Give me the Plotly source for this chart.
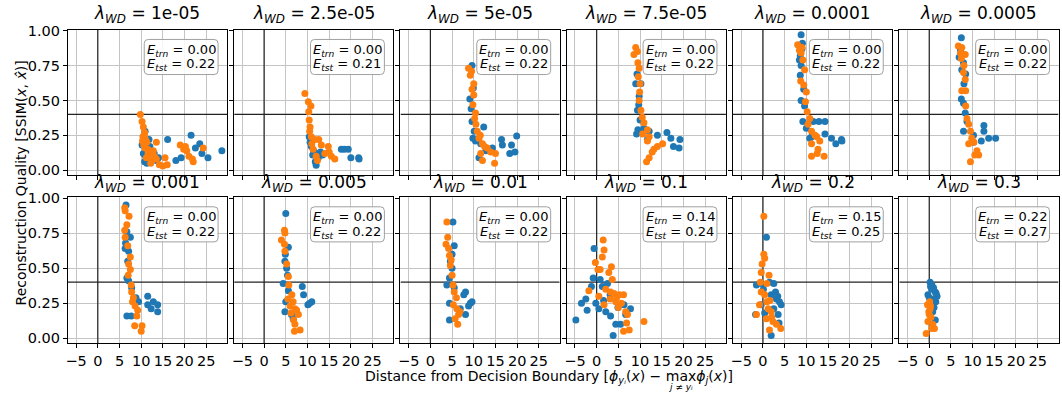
import plotly.graph_objects as go

W, H = 1062, 394

lambdas = ["1e-05", "2.5e-05", "5e-05", "7.5e-05", "0.0001", "0.0005",
           "0.001", "0.005", "0.01", "0.1", "0.2", "0.3"]
e_trn = ["0.00", "0.00", "0.00", "0.00", "0.00", "0.00",
         "0.00", "0.00", "0.00", "0.14", "0.15", "0.22"]
e_tst = ["0.22", "0.21", "0.22", "0.22", "0.22", "0.22",
         "0.22", "0.22", "0.22", "0.24", "0.25", "0.27"]

# blue (train) series per panel
blue_x = [
    [10.2, 10.5, 11.0, 11.5, 12.0, 12.5, 10.8, 11.3, 13.0, 12.2, 11.8, 14.0, 16.1, 18.0, 19.2, 21.5, 22.5, 23.5, 24.0, 25.4, 28.6, 10.6, 11.1, 12.8, 13.5, 10.9, 11.6],
    [10.9, 12.0, 11.4, 17.8, 19.4, 20.0, 21.8, 21.9, 12.0, 10.6, 11.2, 12.5, 13.0, 11.8, 10.4, 13.5, 18.5],
    [9.6, 9.1, 9.4, 9.6, 9.8, 12.3, 16.4, 16.6, 18.7, 19.9, 18.3, 19.5, 14.3, 11.2, 11.6, 10.1, 9.9, 10.4, 12.8],
    [9.0, 10.2, 9.8, 9.4, 9.5, 9.2, 10.9, 12.1, 14.0, 16.2, 17.1, 17.7, 19.2, 19.0, 11.7, 9.7, 10.0, 9.3],
    [8.8, 9.1, 8.6, 8.8, 8.6, 9.4, 8.8, 9.6, 9.2, 10.0, 11.6, 12.9, 14.3, 10.8, 14.3, 15.8, 16.8, 18.1, 18.2, 11.2, 9.0, 8.4],
    [7.4, 6.9, 7.9, 7.5, 8.4, 7.4, 7.9, 8.3, 8.7, 7.9, 10.2, 12.6, 12.6, 12.0, 13.7, 15.3, 10.2, 7.2, 8.0],
    [6.5, 6.7, 7.5, 6.3, 7.1, 6.7, 7.1, 7.8, 8.8, 11.5, 11.5, 12.8, 13.8, 13.8, 12.3, 6.7, 7.7, 9.4, 6.4, 6.9],
    [5.0, 5.6, 4.8, 5.2, 4.4, 5.6, 8.8, 9.1, 11.0, 10.1, 5.0, 4.8, 6.7, 6.3, 5.4, 4.9, 10.5],
    [5.2, 5.5, 4.6, 5.0, 4.4, 3.8, 5.5, 8.1, 7.7, 9.6, 8.8, 8.1, 4.4, 4.4, 6.9, 5.0, 9.2],
    [-0.6, -0.8, 0.8, -1.2, -2.5, -3.5, -2.2, -0.2, -4.8, 1.3, 2.5, 3.1, 0.5, 2.1, 3.2, 4.4, 5.5, 3.8, 6.7, 7.8, 6.3, 1.6, 4.9],
    [0.8, -1.5, -0.4, 1.5, 2.5, 1.9, 3.1, 3.8, 4.2, -0.4, -1.7, 0.4, 3.5, 3.7, 1.9, 2.5, 0.1, 2.9, 3.4],
    [0.2, 0.6, 1.0, 1.4, 1.8, 1.5, -0.3, -0.2, 0.5, 1.4, 0.6, 1.1, 0.8, 0.3, 1.6, 0.0],
]
blue_y = [
    [0.18, 0.12, 0.10, 0.15, 0.17, 0.08, 0.06, 0.05, 0.12, 0.13, 0.22, 0.09, 0.22, 0.07, 0.09, 0.25, 0.16, 0.19, 0.12, 0.09, 0.14, 0.24, 0.20, 0.10, 0.07, 0.28, 0.16],
    [0.17, 0.12, 0.14, 0.15, 0.15, 0.09, 0.09, 0.08, 0.035, 0.20, 0.11, 0.09, 0.13, 0.06, 0.24, 0.11, 0.15],
    [0.75, 0.51, 0.44, 0.35, 0.23, 0.31, 0.22, 0.18, 0.18, 0.245, 0.12, 0.13, 0.16, 0.09, 0.19, 0.28, 0.59, 0.21, 0.14],
    [0.62, 0.62, 0.53, 0.43, 0.29, 0.26, 0.30, 0.28, 0.25, 0.27, 0.23, 0.17, 0.22, 0.16, 0.22, 0.47, 0.36, 0.69],
    [0.97, 0.91, 0.82, 0.75, 0.68, 0.58, 0.50, 0.46, 0.35, 0.30, 0.35, 0.35, 0.35, 0.23, 0.26, 0.23, 0.19, 0.22, 0.21, 0.24, 0.87, 0.79],
    [0.95, 0.81, 0.77, 0.72, 0.69, 0.51, 0.48, 0.41, 0.35, 0.28, 0.25, 0.32, 0.28, 0.21, 0.23, 0.23, 0.20, 0.86, 0.62],
    [0.95, 0.76, 0.72, 0.64, 0.62, 0.43, 0.41, 0.36, 0.29, 0.30, 0.24, 0.26, 0.24, 0.19, 0.21, 0.16, 0.16, 0.26, 0.68, 0.55],
    [0.89, 0.65, 0.55, 0.50, 0.39, 0.34, 0.37, 0.31, 0.26, 0.24, 0.26, 0.19, 0.14, 0.17, 0.45, 0.60, 0.25],
    [0.83, 0.66, 0.55, 0.50, 0.43, 0.38, 0.36, 0.33, 0.31, 0.26, 0.23, 0.17, 0.13, 0.25, 0.21, 0.60, 0.25],
    [0.64, 0.43, 0.42, 0.37, 0.28, 0.25, 0.20, 0.25, 0.13, 0.37, 0.39, 0.31, 0.21, 0.19, 0.16, 0.10, 0.10, 0.02, 0.17, 0.21, 0.24, 0.27, 0.22],
    [0.72, 0.38, 0.39, 0.40, 0.39, 0.31, 0.28, 0.26, 0.24, 0.24, 0.17, 0.18, 0.17, 0.11, 0.02, 0.21, 0.35, 0.33, 0.30],
    [0.40, 0.38, 0.36, 0.33, 0.30, 0.26, 0.31, 0.24, 0.28, 0.13, 0.35, 0.22, 0.19, 0.37, 0.32, 0.29],
]
# orange (test) series per panel
orange_x = [
    [9.8, 10.2, 10.5, 10.8, 10.4, 11.0, 11.3, 10.6, 10.9, 11.5, 12.0, 11.8, 10.3, 10.7, 11.2, 12.5, 13.0, 12.2, 11.6, 13.5, 14.2, 15.0, 15.5, 19.0, 19.8, 20.5, 21.0, 21.8, 20.2, 22.0, 24.3, 12.8, 13.5, 16.0],
    [9.4, 10.2, 10.3, 10.4, 10.5, 10.9, 11.7, 12.6, 14.8, 15.5, 16.3, 12.0, 11.3, 12.3, 10.6, 11.0, 13.2, 14.0, 15.0, 10.8],
    [8.8, 9.2, 9.6, 10.0, 9.8, 10.2, 10.5, 10.8, 11.2, 12.0, 13.1, 13.9, 15.0, 11.6, 12.0, 14.8, 9.5, 10.0, 11.5, 12.5, 10.4],
    [9.0, 9.4, 8.6, 9.5, 9.8, 9.6, 10.0, 9.8, 10.2, 10.5, 10.9, 11.7, 12.1, 11.7, 14.0, 12.8, 12.1, 11.5, 15.2, 13.2, 10.6, 9.9],
    [8.0, 8.4, 8.8, 9.2, 8.7, 9.4, 10.0, 9.8, 10.2, 10.8, 10.4, 11.2, 12.0, 12.4, 11.2, 12.7, 11.2, 12.5, 14.1, 13.1, 9.0, 9.6],
    [6.7, 7.5, 8.3, 7.4, 7.9, 8.3, 7.5, 8.4, 8.4, 8.7, 9.1, 9.5, 9.8, 9.1, 11.0, 11.4, 10.5, 9.5, 7.2, 8.0, 10.3],
    [6.2, 6.3, 7.2, 6.7, 6.2, 6.3, 6.9, 7.5, 7.1, 7.5, 7.7, 7.8, 8.2, 8.6, 9.0, 8.5, 10.2, 10.0, 9.2, 7.0, 8.0],
    [4.7, 4.8, 4.0, 4.7, 4.8, 5.2, 5.6, 5.7, 6.4, 6.7, 7.1, 6.2, 7.9, 7.1, 7.0, 8.3, 6.0, 5.5, 6.8, 7.5],
    [3.8, 4.0, 3.6, 4.2, 4.4, 4.6, 5.0, 5.2, 5.5, 6.0, 6.1, 6.5, 6.3, 5.7, 5.3, 4.8, 6.8],
    [1.5, 1.7, 1.3, -0.3, 0.3, 0.8, 3.4, 2.8, 3.6, -1.8, 0.5, 2.1, 3.2, 4.0, 5.2, 6.2, 5.7, 4.4, 6.7, 7.1, 6.9, 6.2, 7.5, 10.9, 1.7, 3.1, 5.0, 4.6],
    [0.2, 0.2, 0.4, -0.2, -0.4, 1.4, -0.6, -0.4, 0.9, -0.8, -1.5, 1.2, 1.9, 0.8, 2.3, 1.5, 4.1, 3.1, 0.4, 1.6, 2.0, 0.9],
    [-0.7, 1.2, 0.0, 0.2, -0.3, 0.6, 0.1, 0.4, -0.1, 0.8, 0.3, -0.4],
]
orange_y = [
    [0.40, 0.35, 0.31, 0.27, 0.24, 0.22, 0.20, 0.18, 0.16, 0.15, 0.13, 0.11, 0.21, 0.25, 0.09, 0.07, 0.10, 0.05, 0.12, 0.08, 0.04, 0.03, 0.09, 0.18, 0.15, 0.14, 0.10, 0.08, 0.17, 0.06, 0.16, 0.14, 0.20, 0.04],
    [0.55, 0.49, 0.42, 0.36, 0.28, 0.24, 0.22, 0.22, 0.17, 0.10, 0.08, 0.10, 0.15, 0.07, 0.31, 0.19, 0.18, 0.12, 0.13, 0.46],
    [0.73, 0.68, 0.58, 0.54, 0.47, 0.37, 0.33, 0.28, 0.23, 0.19, 0.16, 0.13, 0.12, 0.12, 0.07, 0.05, 0.71, 0.62, 0.25, 0.17, 0.41],
    [0.88, 0.85, 0.83, 0.77, 0.73, 0.67, 0.62, 0.50, 0.43, 0.38, 0.34, 0.29, 0.24, 0.21, 0.17, 0.13, 0.09, 0.06, 0.19, 0.15, 0.26, 0.56],
    [0.90, 0.86, 0.84, 0.79, 0.64, 0.61, 0.56, 0.49, 0.42, 0.37, 0.33, 0.28, 0.25, 0.24, 0.19, 0.15, 0.10, 0.12, 0.10, 0.21, 0.88, 0.72],
    [0.89, 0.88, 0.83, 0.80, 0.70, 0.65, 0.57, 0.57, 0.46, 0.37, 0.33, 0.28, 0.23, 0.19, 0.14, 0.11, 0.11, 0.06, 0.84, 0.75, 0.20],
    [0.93, 0.91, 0.87, 0.81, 0.77, 0.72, 0.66, 0.58, 0.53, 0.49, 0.38, 0.33, 0.29, 0.23, 0.16, 0.09, 0.09, 0.05, 0.20, 0.45, 0.26],
    [0.77, 0.75, 0.70, 0.67, 0.62, 0.53, 0.44, 0.38, 0.31, 0.26, 0.21, 0.18, 0.17, 0.10, 0.05, 0.06, 0.23, 0.28, 0.13, 0.20],
    [0.83, 0.72, 0.67, 0.64, 0.59, 0.52, 0.45, 0.38, 0.33, 0.29, 0.21, 0.17, 0.10, 0.14, 0.24, 0.56, 0.19],
    [0.70, 0.63, 0.58, 0.54, 0.49, 0.49, 0.51, 0.47, 0.42, 0.34, 0.30, 0.35, 0.33, 0.32, 0.31, 0.31, 0.25, 0.26, 0.19, 0.17, 0.11, 0.05, 0.06, 0.12, 0.24, 0.28, 0.22, 0.29],
    [0.87, 0.60, 0.57, 0.53, 0.47, 0.45, 0.40, 0.33, 0.39, 0.24, 0.17, 0.21, 0.19, 0.14, 0.12, 0.06, 0.07, 0.10, 0.31, 0.27, 0.15, 0.26],
    [0.035, 0.07, 0.17, 0.21, 0.12, 0.07, 0.26, 0.15, 0.19, 0.10, 0.23, 0.24],
]

x_ticks = [-5, 0, 5, 10, 15, 20, 25]
x_ticklabels = ["\u22125", "0", "5", "10", "15", "20", "25"]
y_ticks = [0, 0.25, 0.5, 0.75, 1.0]
y_ticklabels = ["0.00", "0.25", "0.50", "0.75", "1.00"]

BLUE = "#1f77b4"
ORANGE = "#ff7f0e"
FONT = "DejaVu Sans"

# panel geometry (pixels)
col_left = [66 + 166.6 * i for i in range(6)]
pw = 159.5
row_top = [23.3, 195.0]
row_bot = [172.5, 345.0]


def px(x):
    return x / W


def py(y):
    return 1 - y / H


fig = go.Figure()
layout = dict(width=W, height=H, margin=dict(l=0, r=0, t=0, b=0),
              plot_bgcolor="white", paper_bgcolor="white", showlegend=False,
              font=dict(family=FONT, color="black"))
shapes = []
annotations = []

for k in range(12):
    r, c = divmod(k, 6)
    ax = "" if k == 0 else str(k + 1)
    x0p, x1p = col_left[c], col_left[c] + pw
    y0p, y1p = row_top[r], row_bot[r]
    layout["xaxis" + ax] = dict(
        domain=[px(x0p), px(x1p)], range=[-6.9, 29.8], anchor="y" + ax,
        tickvals=x_ticks, ticktext=x_ticklabels, showticklabels=(r == 1),
        ticks="outside", ticklen=4, tickcolor="black", tickwidth=1,
        showgrid=True, gridcolor="#c4c4c4", gridwidth=1,
        showline=True, linecolor="black", linewidth=1, mirror=True,
        zeroline=False, tickfont=dict(size=14.5, family=FONT), fixedrange=True)
    layout["yaxis" + ax] = dict(
        domain=[py(y1p), py(y0p)], range=[-0.035, 1.007], anchor="x" + ax,
        tickvals=y_ticks, ticktext=y_ticklabels, showticklabels=(c == 0),
        ticks="outside", ticklen=4, tickcolor="black", tickwidth=1,
        showgrid=True, gridcolor="#c4c4c4", gridwidth=1,
        showline=True, linecolor="black", linewidth=1, mirror=True,
        zeroline=False, tickfont=dict(size=14.5, family=FONT), fixedrange=True)

    fig.add_trace(go.Scatter(x=blue_x[k], y=blue_y[k], mode="markers",
                             marker=dict(color=BLUE, size=7),
                             xaxis="x" + ax, yaxis="y" + ax))
    fig.add_trace(go.Scatter(x=orange_x[k], y=orange_y[k], mode="markers",
                             marker=dict(color=ORANGE, size=7),
                             xaxis="x" + ax, yaxis="y" + ax))

    # reference lines
    shapes.append(dict(type="line", xref="x" + ax, yref="y" + ax,
                       x0=0, x1=0, y0=-0.035, y1=1.007, layer="between",
                       line=dict(color="#222222", width=1.2)))
    shapes.append(dict(type="line", xref="x" + ax, yref="y" + ax,
                       x0=-6.9, x1=29.8, y0=0.4, y1=0.4, layer="between",
                       line=dict(color="#222222", width=1.2)))

    # title
    annotations.append(dict(
        text="<i>\u03bb</i><sub><i>WD</i></sub> = " + lambdas[k],
        xref="paper", yref="paper", x=px((x0p + x1p) / 2),
        y=py(y0p - (2 if r == 0 else 0.5)),
        xanchor="center", yanchor="bottom", showarrow=False,
        font=dict(size=17, family=FONT)))

    # error box (rounded rectangle)
    bx1 = x1p - 9
    bx0 = bx1 - 74
    by0 = y0p + 10
    by1 = by0 + 36
    rr = 4
    path = (f"M {px(bx0 + rr)},{py(by0)} L {px(bx1 - rr)},{py(by0)} "
            f"Q {px(bx1)},{py(by0)} {px(bx1)},{py(by0 + rr)} "
            f"L {px(bx1)},{py(by1 - rr)} Q {px(bx1)},{py(by1)} {px(bx1 - rr)},{py(by1)} "
            f"L {px(bx0 + rr)},{py(by1)} Q {px(bx0)},{py(by1)} {px(bx0)},{py(by1 - rr)} "
            f"L {px(bx0)},{py(by0 + rr)} Q {px(bx0)},{py(by0)} {px(bx0 + rr)},{py(by0)} Z")
    shapes.append(dict(type="path", xref="paper", yref="paper", path=path,
                       fillcolor="rgba(255,255,255,0.85)", layer="above",
                       line=dict(color="#a0a0a0", width=1)))
    annotations.append(dict(
        text="<i>E</i><sub><i>trn</i></sub> = " + e_trn[k],
        xref="paper", yref="paper", x=px((bx0 + bx1) / 2), y=py(by0 + 11),
        xanchor="center", yanchor="middle", showarrow=False,
        font=dict(size=13, family=FONT)))
    annotations.append(dict(
        text="<i>E</i><sub><i>tst</i></sub> = " + e_tst[k],
        xref="paper", yref="paper", x=px((bx0 + bx1) / 2), y=py(by0 + 26),
        xanchor="center", yanchor="middle", showarrow=False,
        font=dict(size=13, family=FONT)))

# axis labels
annotations.append(dict(
    text="Reconstruction Quality [SSIM(<i>x</i>, <i>x\u0302</i>)]",
    xref="paper", yref="paper", x=px(19), y=py(180), textangle=-90,
    xanchor="center", yanchor="middle", showarrow=False,
    font=dict(size=14, family=FONT)))
annotations.append(dict(
    text="Distance from Decision Boundary [<i>\u03d5</i><sub><i>y\u1d62</i></sub>(<i>x</i>) \u2212 max<i>\u03d5</i><sub><i>j</i></sub>(<i>x</i>)]",
    xref="paper", yref="paper", x=px(548), y=py(380),
    xanchor="center", yanchor="middle", showarrow=False,
    font=dict(size=14, family=FONT)))
annotations.append(dict(
    text="<i>j</i> \u2260 <i>y\u1d62</i>",
    xref="paper", yref="paper", x=px(680), y=py(389.5),
    xanchor="center", yanchor="middle", showarrow=False,
    font=dict(size=9, family=FONT)))

layout["shapes"] = shapes
layout["annotations"] = annotations
fig.update_layout(**layout)
fig.write_html("out.html", config={"displayModeBar": False},
               post_script="document.body.style.margin='0';document.body.style.padding='0';")
